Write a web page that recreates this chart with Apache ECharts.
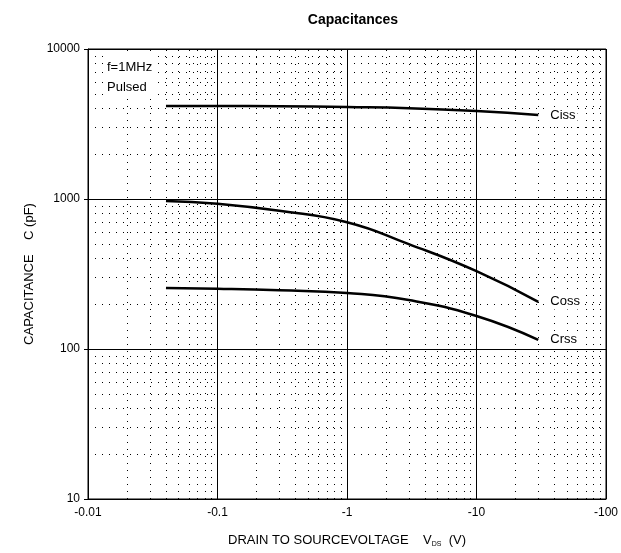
<!DOCTYPE html>
<html>
<head>
<meta charset="utf-8">
<script src="https://cdn.jsdelivr.net/npm/echarts@6/dist/echarts.min.js"></script>
<style>
  html, body { margin: 0; padding: 0; background: #fff; }
  #chart { width: 621px; height: 553px; }
</style>
</head>
<body>
<div id="chart"></div>
<script>
// VDS magnitude (V), plotted on a log axis, labels shown as negative
const vds = [0.04, 0.1, 0.3, 1, 3, 10, 30];
const ciss = [4170, 4170, 4150, 4100, 4030, 3860, 3630];
const coss = [970, 930, 835, 700, 500, 330, 206];
const crss = [255, 252, 246, 236, 212, 166, 115];

const xDecades = [0.01, 0.1, 1, 10];
const yDecades = [10, 100, 1000];
const minorSteps = [2, 3, 4, 5, 6, 7, 8, 9];

const font = "'Liberation Sans', Arial, sans-serif";

// dotted minor grid at 2..9 of each decade
const minorX = [];
xDecades.forEach(d => minorSteps.forEach(m => minorX.push({ xAxis: +(d * m).toPrecision(3) })));
const minorY = [];
yDecades.forEach(d => minorSteps.forEach(m => minorY.push({ yAxis: d * m })));

const chart = echarts.init(document.getElementById("chart"));

function curve(name, vals) {
  return {
    name: name,
    type: "line",
    smooth: true,
    symbol: "none",
    lineStyle: { color: "#000", width: 2.5 },
    data: vds.map((v, i) => [v, vals[i]]),
    endLabel: {
      show: true,
      formatter: "{a}",
      color: "#000",
      fontFamily: font,
      fontSize: 13,
      distance: 10,
      backgroundColor: "#fff",
      padding: [1, 2]
    },
    z: 5
  };
}

chart.setOption({
  animation: false,
  title: {
    text: "Capacitances",
    left: 348,
    top: 8,
    textAlign: "center",
    textStyle: { fontFamily: font, fontSize: 14, fontWeight: "bold", color: "#000" }
  },
  grid: { left: 88, right: 13, top: 49, bottom: 53, show: true, borderColor: "#000", borderWidth: 1 },
  xAxis: {
    type: "log",
    logBase: 10,
    min: 0.01,
    max: 100,
    name: "{t|DRAIN TO SOURCEVOLTAGE    V}{s|DS}{t|  (V)}",
    nameLocation: "middle",
    nameGap: 34,
    nameTextStyle: {
      rich: {
        t: { fontFamily: font, fontSize: 13, color: "#000" },
        s: { fontFamily: font, fontSize: 7, color: "#000", verticalAlign: "bottom", padding: [8, 0, 0, 0] }
      }
    },
    axisLine: { lineStyle: { color: "#000" } },
    axisTick: { show: false },
    axisLabel: {
      color: "#000",
      fontFamily: font,
      fontSize: 12,
      margin: 8,
      formatter: v => "-" + v
    },
    splitLine: { show: true, lineStyle: { color: "#000", width: 1 } }
  },
  yAxis: {
    type: "log",
    logBase: 10,
    min: 10,
    max: 10000,
    name: "CAPACITANCE    C (pF)",
    nameLocation: "middle",
    nameGap: 45,
    nameTextStyle: { fontFamily: font, fontSize: 13, color: "#000" },
    axisLine: { lineStyle: { color: "#000" } },
    axisTick: { show: true, length: 4, lineStyle: { color: "#000" } },
    axisLabel: { color: "#000", fontFamily: font, fontSize: 12, margin: 8, formatter: v => String(v) },
    splitLine: { show: true, lineStyle: { color: "#000", width: 1 } }
  },
  graphic: [
    {
      type: "text",
      left: 105,
      top: 56,
      style: {
        text: "f=1MHz\nPulsed",
        fontFamily: font,
        fontSize: 13,
        lineHeight: 20,
        fill: "#000",
        backgroundColor: "#fff",
        padding: [1, 2]
      },
      z: 10
    }
  ],
  series: [
    {
      name: "grid",
      type: "line",
      data: [],
      silent: true,
      markLine: {
        silent: true,
        symbol: "none",
        label: { show: false },
        lineStyle: { color: "#000", width: 1, type: [1, 6] },
        data: minorX.concat(minorY)
      },
      z: 1
    },
    curve("Ciss", ciss),
    curve("Coss", coss),
    curve("Crss", crss)
  ]
});
</script>
</body>
</html>
